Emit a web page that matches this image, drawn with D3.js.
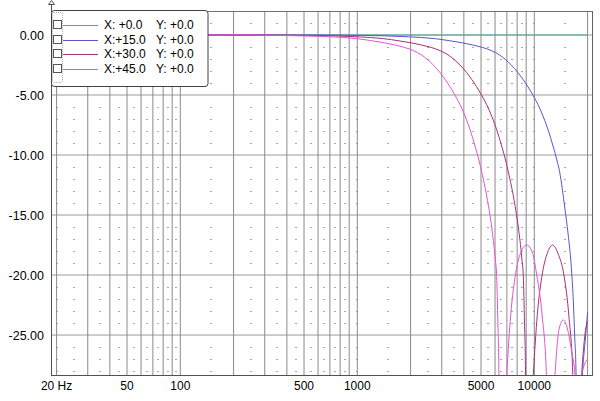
<!DOCTYPE html>
<html><head><meta charset="utf-8">
<script src="https://cdn.jsdelivr.net/npm/d3@7"></script>
<style>
html,body{margin:0;padding:0;background:#fff;}
svg{display:block;font-family:"Liberation Sans",Arial,sans-serif;}
</style></head>
<body><div id="chart"></div>
<script>
// ---- data ----
const xTickLabels = [[20,"20 Hz"],[50,"50"],[100,"100"],[500,"500"],[1000,"1000"],[5000,"5000"],[10000,"10000"]];
const yTickValues = [0,-5,-10,-15,-20,-25];
const yTickLabels = ["0.00","-5.00","-10.00","-15.00","-20.00","-25.00"];
const majorFreqs = [20,30,40,50,60,70,80,90,100,200,300,400,500,600,700,800,900,1000,2000,3000,4000,5000,6000,7000,8000,9000,10000,20000];
const minorFreqs = [20,25,35,45,55,65,75,85,95,150,250,350,450,550,650,750,850,1000,1500,2500,3500,4500,5500,6500,7500,8500,10000,15000];
const minorDb = [1,-1,-2,-3,-4,-6,-7,-8,-9,-11,-12,-13,-14,-16,-17,-18,-19,-21,-22,-23,-24,-26,-27,-28];
const seriesNames = ["X: +0.0","X:+15.0","X:+30.0","X:+45.0"];
const seriesY = ["Y: +0.0","Y: +0.0","Y: +0.0","Y: +0.0"];
const s0 = [[20,0],[20000,0]];
const s15 = [[20,0],[580,0],[1053,-0.03],[1950,-0.15],[2730,-0.3],[3397,-0.5],[4544,-0.85],[5719,-1.3],[6343,-1.65],[7410,-2.5],[8094,-3.14],[8639,-3.7],[9204,-4.31],[9836,-5.02],[10725,-6.1],[11439,-7.1],[11961,-7.9],[12759,-9.25],[13455,-10.5],[13905,-11.4],[14900,-14.5],[15500,-16.5],[16300,-20],[16650,-22.5],[16900,-25],[17200,-28],[17550,-40],[18740,-28],[19300,-25.8],[20000,-23.1]];
const s30 = [[20,0],[300,0],[540,-0.03],[1000,-0.15],[1400,-0.3],[1742,-0.5],[2330,-0.85],[2933,-1.3],[3253,-1.65],[3800,-2.5],[4151,-3.14],[4430,-3.7],[4720,-4.31],[5044,-5.02],[5500,-6.1],[5866,-7.1],[6134,-7.9],[6543,-9.25],[6900,-10.5],[7131,-11.4],[7780,-14.2],[8121,-16.0],[8488,-18.5],[8667,-20.1],[8803,-24],[8918,-28],[9034,-40],[9870,-28.3],[10400,-23.3],[11014,-20.2],[11900,-18.1],[12706,-17.5],[13600,-18.2],[14700,-20.0],[15700,-23.5],[16500,-28.3],[16950,-40],[18510,-28.3],[19513,-24.5],[20000,-23.9]];
const s45 = [[20,0],[250,0],[500,-0.08],[707,-0.15],[990,-0.3],[1232,-0.5],[1648,-0.85],[2074,-1.3],[2300,-1.65],[2690,-2.5],[2936,-3.14],[3133,-3.7],[3338,-4.31],[3567,-5.02],[3890,-6.1],[4148,-7.1],[4338,-7.9],[4627,-9.25],[4880,-10.5],[5043,-11.4],[5502,-14.2],[5743,-16.0],[6003,-18.5],[6129,-20.1],[6226,-24],[6307,-28],[6389,-40],[6985,-28.3],[7360,-23.3],[7780,-20.2],[8400,-18.1],[9059,-17.5],[9800,-18.2],[10318,-20],[11100,-23.5],[11700,-28.3],[12000,-40],[13090,-28.3],[13800,-24.5],[14584,-23.75],[15400,-24.5],[16268,-26.4],[16980,-28.3],[17400,-40],[18525,-28.3],[20000,-27]];
const seriesData = [s0,s15,s30,s45];
const seriesColors = ["#4aa8a0","#5b55c8","#a8307a","#e055d5"];

// ---- layout ----
const W=600,H=401;
const L=51,R=593,T=11,B=375;
const svg=d3.select("#chart").append("svg").attr("width",W).attr("height",H);
const x=d3.scaleLog().domain([18.6,21460]).range([L,R]);
const y=d3.scaleLinear().domain([2,-28.33]).range([T,B]);

// minor dots
const dots=svg.append("g").attr("fill","#a8a8a8");
minorFreqs.forEach(f=>{minorDb.forEach(v=>{
  dots.append("rect").attr("x",Math.round(x(f))-1).attr("y",Math.round(y(v))).attr("width",2).attr("height",1);
});});
// major horizontal
svg.append("g").selectAll("line").data(yTickValues).join("line")
  .attr("x1",L).attr("x2",R).attr("y1",d=>y(d)).attr("y2",d=>y(d))
  .attr("stroke","#9a9a9a").attr("stroke-width",1);
// major vertical
svg.append("g").selectAll("line").data(majorFreqs).join("line")
  .attr("x1",d=>x(d)).attr("x2",d=>x(d)).attr("y1",T).attr("y2",B)
  .attr("stroke","#8a8a8a").attr("stroke-width",1);

// curves
svg.append("clipPath").attr("id","clip").append("rect").attr("x",L).attr("y",T).attr("width",R-L).attr("height",B-T);
const line=d3.line().x(d=>x(d[0])).y(d=>y(d[1])).curve(d3.curveMonotoneX);
const cg=svg.append("g").attr("clip-path","url(#clip)");
seriesData.forEach((s,i)=>{
  cg.append("path").attr("d",line(s)).attr("fill","none").attr("stroke",seriesColors[i]).attr("stroke-width",1);
});

// frame
svg.append("line").attr("x1",L).attr("x2",R).attr("y1",T+0.5).attr("y2",T+0.5).attr("stroke","#707070");
svg.append("line").attr("x1",R-0.5).attr("x2",R-0.5).attr("y1",T).attr("y2",B).attr("stroke","#606060");
svg.append("line").attr("x1",L).attr("x2",R).attr("y1",B+0.5).attr("y2",B+0.5).attr("stroke","#505050");
svg.append("line").attr("x1",L+0.5).attr("x2",L+0.5).attr("y1",4).attr("y2",B+1).attr("stroke","#505050");
svg.append("path").attr("d",`M${L+0.5},0.5 L${L+3.5},4.5 L${L-2.5},4.5 Z`).attr("fill","#fff").attr("stroke","#505050");

// tick labels
svg.append("g").selectAll("text").data(yTickValues).join("text")
  .attr("x",44).attr("y",d=>y(d)+4.5).attr("text-anchor","end")
  .attr("font-size","12.5px").attr("fill","#000").text((d,i)=>yTickLabels[i]);
svg.append("g").selectAll("text").data(xTickLabels).join("text")
  .attr("x",d=>x(d[0])).attr("y",390).attr("text-anchor","middle")
  .attr("font-size","12px").attr("fill","#000").text(d=>d[1]);

// legend
const lg=svg.append("g");
lg.append("rect").attr("x",51.5).attr("y",10.5).attr("width",156.5).attr("height",76).attr("rx",3)
  .attr("fill","#fff").attr("stroke","#404040");
lg.append("rect").attr("x",52.5).attr("y",12.5).attr("width",10).attr("height",70).attr("rx",1.5)
  .attr("fill","none").attr("stroke","#aaa").attr("stroke-dasharray","1,1");
const rowY=[25,39.5,54,68.5];
seriesNames.forEach((n,i)=>{
  const cy=rowY[i];
  lg.append("rect").attr("x",53.5).attr("y",Math.round(cy)-4.5).attr("width",8).attr("height",8)
    .attr("fill","#fff").attr("stroke","#555");
  lg.append("line").attr("x1",63).attr("x2",98).attr("y1",Math.round(cy)+0.5).attr("y2",Math.round(cy)+0.5)
    .attr("stroke",seriesColors[i]).attr("stroke-width",1);
  lg.append("text").attr("x",104).attr("y",cy+4.3).attr("font-size","12px").attr("fill","#000")
    .style("white-space","pre").text(n);
  lg.append("text").attr("x",156).attr("y",cy+4.3).attr("font-size","12px").attr("fill","#000")
    .style("white-space","pre").text(seriesY[i]);
});
</script></body></html>
